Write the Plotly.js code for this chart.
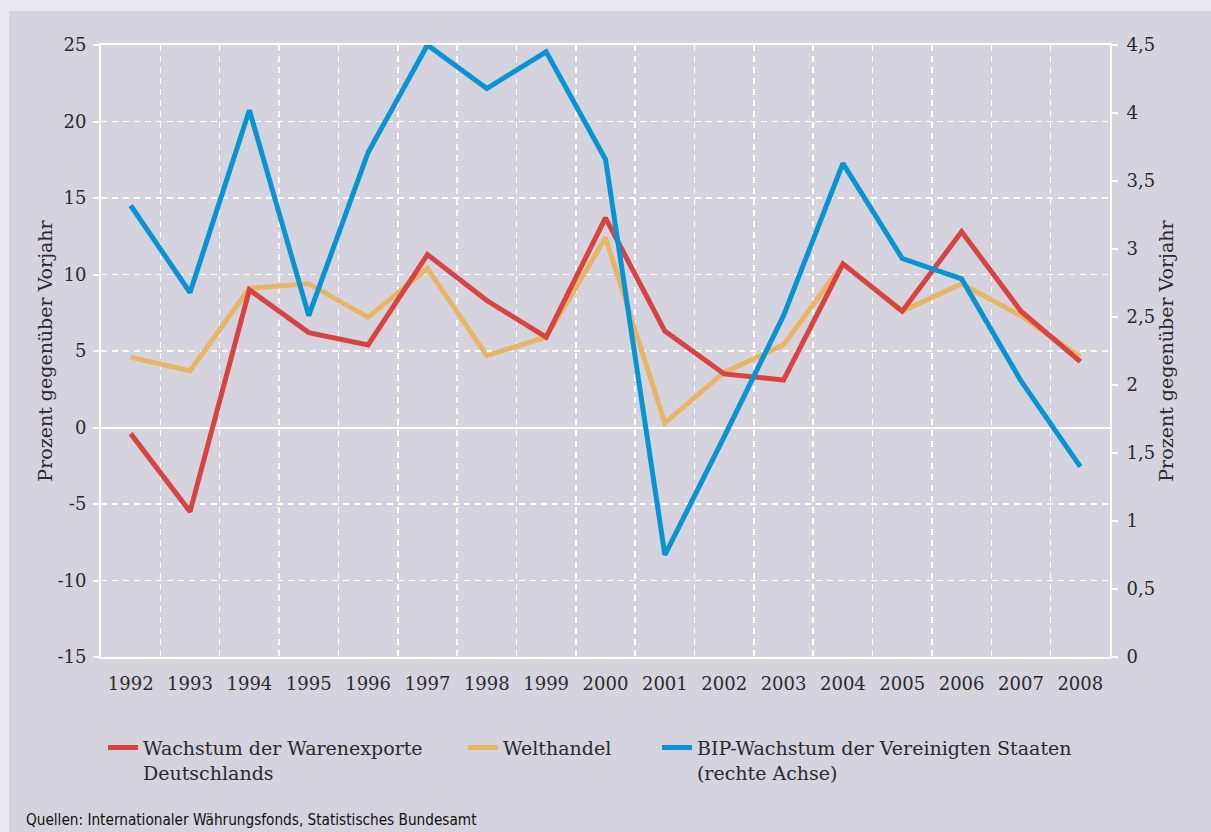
<!DOCTYPE html>
<html>
<head>
<meta charset="utf-8">
<script src="https://cdn.plot.ly/plotly-3.0.1.min.js"></script>
<style>
  html, body { margin: 0; padding: 0; background: #e9e8ee; width: 1211px; height: 832px; overflow: hidden; }
  #chart { position: absolute; left: 9px; top: 11px; width: 1202px; height: 821px; }
</style>
</head>
<body>
<div id="chart"></div>
<script>
// ---- data ----
const years = ["1992","1993","1994","1995","1996","1997","1998","1999","2000","2001","2002","2003","2004","2005","2006","2007","2008"];
const exportsGermany = [-0.4, -5.5, 9.0, 6.2, 5.4, 11.3, 8.3, 5.9, 13.7, 6.3, 3.5, 3.1, 10.7, 7.6, 12.8, 7.6, 4.3];
const worldTrade     = [4.6, 3.7, 9.1, 9.4, 7.2, 10.4, 4.7, 5.9, 12.4, 0.3, 3.6, 5.4, 10.7, 7.6, 9.4, 7.3, 4.6];
const gdpUS          = [3.32, 2.68, 4.02, 2.51, 3.71, 4.50, 4.18, 4.45, 3.66, 0.75, 1.62, 2.51, 3.63, 2.93, 2.78, 2.03, 1.40];
const leftTickVals  = [-15, -10, -5, 0, 5, 10, 15, 20, 25];
const leftTickText  = ["-15", "-10", "-5", "0", "5", "10", "15", "20", "25"];
const rightTickVals = [0, 0.5, 1, 1.5, 2, 2.5, 3, 3.5, 4, 4.5];
const rightTickText = ["0", "0,5", "1", "1,5", "2", "2,5", "3", "3,5", "4", "4,5"];
const seriesNames = ["Wachstum der Warenexporte<br>Deutschlands", "Welthandel", "BIP-Wachstum der Vereinigten Staaten<br>(rechte Achse)"];
const axisTitle = "Prozent gegenüber Vorjahr";
const sourceText = "Quellen: Internationaler Währungsfonds, Statistisches Bundesamt";

// ---- style ----
const RED = "#d64340", YELLOW = "#e8b566", BLUE = "#0893d2";
const TXT = "#2a2a2a";
const SERIF = "DejaVu Serif, Liberation Serif, serif";
const gridDash = "6px,5px";

const traces = [
  { x: years, y: worldTrade, type: "scatter", mode: "lines", name: seriesNames[1],
    line: { color: YELLOW, width: 5 }, legend: "legend2", xaxis: "x", yaxis: "y" },
  { x: years, y: exportsGermany, type: "scatter", mode: "lines", name: seriesNames[0],
    line: { color: RED, width: 5 }, legend: "legend", xaxis: "x", yaxis: "y" },
  { x: years, y: gdpUS, type: "scatter", mode: "lines", name: seriesNames[2],
    line: { color: BLUE, width: 5 }, legend: "legend3", xaxis: "x", yaxis: "y2" }
];

const legendBase = {
  orientation: "v", bgcolor: "rgba(0,0,0,0)", borderwidth: 0,
  font: { family: SERIF, size: 19, color: TXT }, valign: "top",
  xanchor: "left", yanchor: "top", y: -0.117, tracegroupgap: 0
};

const layout = {
  width: 1202, height: 821,
  paper_bgcolor: "#d5d3de", plot_bgcolor: "#d5d3de",
  margin: { l: 92, r: 101, t: 34, b: 175 },
  separators: ",.",
  font: { family: SERIF, size: 18, color: TXT },
  showlegend: true,
  xaxis: {
    type: "category", tickson: "boundaries", range: [-0.5, years.length - 0.5],
    showgrid: true, gridcolor: "#ffffff", gridwidth: 1.5, griddash: gridDash,
    showline: true, linecolor: "#ffffff", linewidth: 2, mirror: true,
    ticks: "", ticklabelstandoff: 9,
    tickfont: { family: SERIF, size: 18, color: TXT },
    zeroline: false, fixedrange: true
  },
  yaxis: {
    range: [-15, 25], tickmode: "array", tickvals: leftTickVals, ticktext: leftTickText,
    showgrid: true, gridcolor: "#ffffff", gridwidth: 1.5, griddash: gridDash,
    zeroline: true, zerolinecolor: "#ffffff", zerolinewidth: 2,
    showline: true, linecolor: "#ffffff", linewidth: 2,
    ticks: "outside", ticklen: 6, tickwidth: 2, tickcolor: "#ffffff",
    ticklabelstandoff: 3,
    tickfont: { family: SERIF, size: 18, color: TXT },
    title: { text: axisTitle, font: { family: SERIF, size: 19, color: TXT }, standoff: 0 },
    automargin: false
  },
  yaxis2: {
    overlaying: "y", side: "right",
    range: [0, 4.5], tickmode: "array", tickvals: rightTickVals, ticktext: rightTickText,
    showgrid: false, zeroline: false,
    showline: true, linecolor: "#ffffff", linewidth: 2,
    ticks: "outside", ticklen: 6, tickwidth: 2, tickcolor: "#ffffff",
    ticklabelstandoff: 5,
    tickfont: { family: SERIF, size: 18, color: TXT },
    title: { text: axisTitle, font: { family: SERIF, size: 19, color: TXT }, standoff: 0 },
    automargin: false
  },
  legend: Object.assign({}, legendBase, { x: 0.002 }),
  legend2: Object.assign({}, legendBase, { x: 0.3588 }),
  legend3: Object.assign({}, legendBase, { x: 0.551 }),
  annotations: [{
    text: sourceText, xref: "paper", yref: "paper",
    x: (24 - 9 - 92) / 1009, y: -(809 - 646) / 612, xanchor: "left", yanchor: "middle", showarrow: false,
    font: { family: "DejaVu Sans Condensed, Liberation Sans Narrow, Roboto, sans-serif", size: 15.2, color: "#111111" }
  }]
};

Plotly.newPlot("chart", traces, layout, { displayModeBar: false, staticPlot: true });
</script>
</body>
</html>
